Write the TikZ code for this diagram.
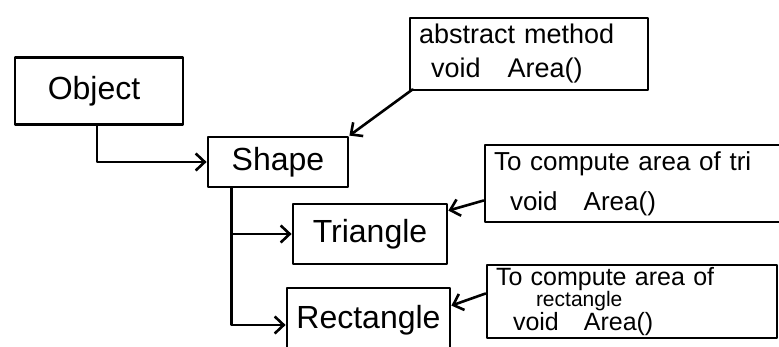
\documentclass[tikz,border=0pt]{standalone}
\usepackage{fontspec}
\setmainfont{Liberation Sans}
\usetikzlibrary{arrows.meta,calc}
\begin{document}
\begin{tikzpicture}[x=1pt,y=-1pt,
  line cap=round, line join=round,
  box/.style={draw, line width=2.8pt, inner sep=0pt},
  conn/.style={line width=2.6pt, -{Straight Barb[length=9pt,width=17pt]}},
  big/.style={font=\fontsize{32}{36}\selectfont},
  note/.style={box, align=left, inner xsep=9pt}
]
\useasboundingbox (0,0) rectangle (779,347);
\clip (0,0) rectangle (779,347);
% class boxes
\node[box,big,minimum width=168pt,minimum height=67pt] (obj) at (99,91) {Object\hspace*{10pt}};
\node[box,big,minimum width=140pt,minimum height=50pt] (shape) at (278,162) {Shape};
\node[box,big,minimum width=154pt,minimum height=60pt] (tri) at (370,234) {Triangle};
\node[box,big,minimum width=163pt,minimum height=64pt] (rect) at (368.5,320) {Rectangle};
% note boxes
\node[note,font=\fontsize{27}{34}\selectfont,text width=220pt,minimum height=72pt] (abs) at (529,54)
  {\mbox{abstract method}\\\mbox{\hspace*{12pt}void\quad Area()}};
\node[note,font=\fontsize{26}{40}\selectfont,text width=297pt,minimum height=77pt] (tricom) at (642.5,183.5)
  {\mbox{To compute area of tri}\\\mbox{\hspace*{16pt}void\quad Area()}};
\node[note,font=\fontsize{25}{21}\selectfont,text width=272pt,minimum height=73pt] (rectcom) at (632,301.5)
  {\mbox{To compute area of}\\\mbox{\hspace*{40pt}\fontsize{21}{21}\selectfont rectangle}\\\mbox{\hspace*{17pt}void\quad Area()}};
% connectors
\coordinate (trunk) at ($(shape.south west)+(25,0)$);
\draw[conn] ($(obj.south)+(-2,0)$) |- (shape.west);
\draw[conn] (trunk) |- (tri.west);
\draw[conn] (trunk) |- ($(rect.west)+(0,5)$);
\draw[conn] ($(abs.south west)+(4,-2)$) -- (shape.north east);
\draw[conn] ($(tricom.west)+(0,17)$) -- ($(tri.north east)+(0,8)$);
\draw[conn] ($(rectcom.west)+(0,-8)$) -- ($(rect.north east)+(0,19)$);
\end{tikzpicture}
\end{document}
